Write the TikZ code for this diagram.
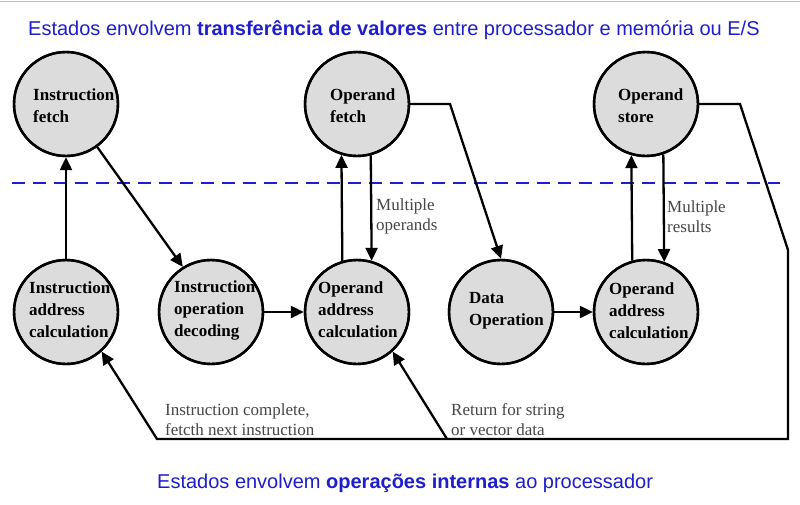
\documentclass[tikz,border=0pt]{standalone}
\usepackage{fontspec}
\setmainfont{Liberation Serif}
\newfontfamily\sansf{Liberation Sans}
\usetikzlibrary{arrows.meta}
\definecolor{tblue}{RGB}{30,30,205}
\definecolor{sfill}{RGB}{220,220,220}
\definecolor{lblgray}{RGB}{70,70,70}
\begin{document}
\begin{tikzpicture}[x=1pt,y=-1pt,
  state/.style={circle,draw,line width=2.4pt,fill=sfill,minimum size=104pt,inner sep=0pt},
  stxt/.style={anchor=west,align=left,inner sep=0pt,font=\fontsize{17}{22}\selectfont\bfseries},
  lbl/.style={anchor=west,align=left,inner sep=0pt,text=lblgray,font=\fontsize{17}{20}\selectfont},
  arr/.style={line width=2.3pt,-{Triangle[length=13pt,width=12pt]}},
  sep/.style={tblue,line width=2pt,dash pattern=on 13pt off 8pt},
  ttl/.style={anchor=base west,inner sep=0pt,text=tblue,font=\sansf\fontsize{20}{24}\selectfont}]
\useasboundingbox[fill=white] (0,0) rectangle (800,504);
\draw[gray!50,line width=1pt] (0,1) -- (800,1);

% titles
\node[ttl] (t1) at (28,35) {Estados envolvem \textbf{transferência de valores} entre processador e memória ou E/S};
\node[ttl] (t2) at (157,488) {Estados envolvem \textbf{operações internas} ao processador};

% separator
\draw[sep] (12,183) -- (780,183);

% states
\node[state] (if)   at (66,104)  {};
\node[state] (of)   at (357,104) {};
\node[state] (os)   at (646,104) {};
\node[state] (iac)  at (66,312)  {};
\node[state] (iod)  at (211,312) {};
\node[state] (oac)  at (357,312) {};
\node[state] (dop)  at (501,312) {};
\node[state] (oacb) at (646,312) {};

\node[stxt] (tif)   at (33,106)  {Instruction\\fetch};
\node[stxt] (tof)   at (330,106) {Operand\\fetch};
\node[stxt] (tos)   at (618,106) {Operand\\store};
\node[stxt] (tiac)  at (29,310)  {Instruction\\address\\calculation};
\node[stxt] (tiod)  at (174,310) {Instruction\\operation\\decoding};
\node[stxt] (toac)  at (318,310) {Operand\\address\\calculation};
\node[stxt] (tdop)  at (469,310.5) {Data\\Operation};
\node[stxt] (toacb) at (609,311) {Operand\\address\\calculation};

\foreach \n in {if,of,os,iac,iod,oac,dop,oacb}
  \draw[line width=2.4pt] (\n.center) circle[radius=52pt];

% connectors
\draw[arr] (iac.north) -- (if.south);
\draw[arr] (if.-54) -- (iod.122);
\draw[arr] (iod.east) -- (oac.west);
\draw[arr] (oac.106.8) -- (of.253.2);
\draw[arr] (of.285.6) -- (oac.74.4);
\coordinate (ofk) at (450,104);
\draw[arr] (of.east) -- (ofk) -- (dop.north);
\draw[arr] (dop.east) -- (oacb.west);
\draw[arr] (oacb.105.6) -- (os.254.4);
\draw[arr] (os.289.1) -- (oacb.70.9);

\coordinate (k1) at (740,104);
\coordinate (k2) at (788,250);
\coordinate (k3) at (788,439);
\coordinate (k4) at (157,439);
\coordinate (k5) at (447,439);
\draw[arr,line join=miter] (os.east) -- (k1) -- (k2) -- (k3) -- (k4) -- (iac.-48);
\draw[arr] (k5) -- (oac.-48);

% labels
\node[lbl] (l1) at (376,216.5) {Multiple\\operands};
\node[lbl] (l2) at (667,216.5) {Multiple\\results};
\node[lbl] (l3) at (165,419.5) {Instruction complete,\\fetcth next instruction};
\node[lbl] (l4) at (451,419.5) {Return for string\\or vector data};
\end{tikzpicture}
\end{document}
